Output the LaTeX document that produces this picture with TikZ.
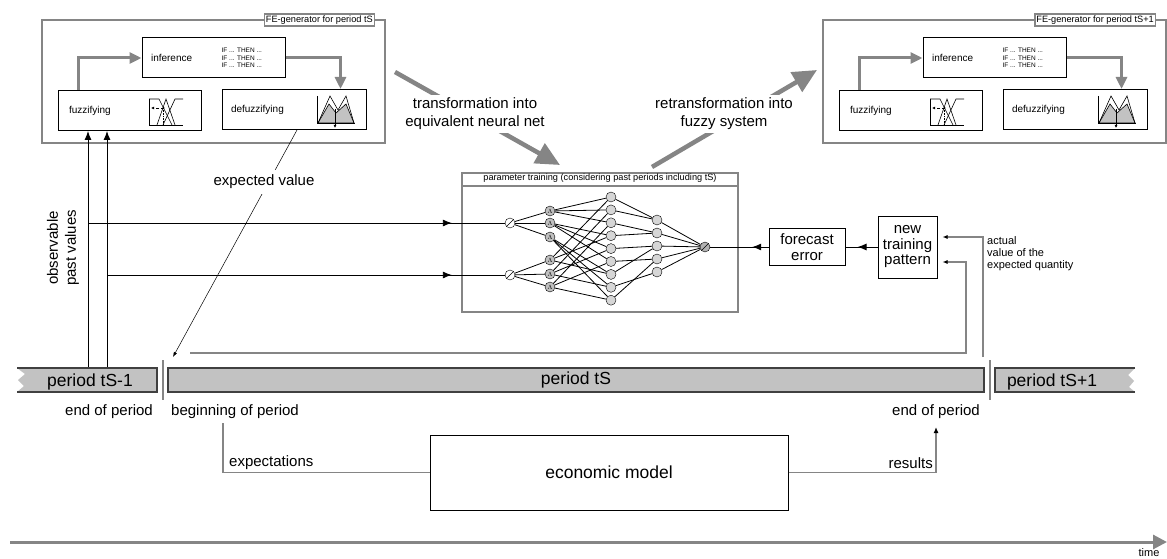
\documentclass[tikz,border=0pt]{standalone}
\usepackage{fontspec}
\setmainfont{Liberation Sans}
\usetikzlibrary{arrows.meta,positioning}

\definecolor{linegray}{gray}{0.52}
\definecolor{bargray}{gray}{0.76}
\definecolor{nodegray}{gray}{0.84}
\definecolor{edgegray}{gray}{0.25}

\newcommand\fsTiny{\fontsize{6.5}{7.5}\selectfont}
\newcommand\fsSmall{\fontsize{9.2}{11.5}\selectfont}
\newcommand\fsBox{\fontsize{10}{12}\selectfont}
\newcommand\fsMid{\fontsize{15}{18}\selectfont}
\newcommand\fsBig{\fontsize{17.5}{20}\selectfont}

\begin{document}
\begin{tikzpicture}[x=1pt, y=-1pt,
    fbox/.style={draw, line width=1pt, fill=white, inner sep=0pt},
    fegray/.style={draw=linegray, line width=2.5pt},
    felabel/.style={draw=linegray, line width=1.5pt, fill=white, inner sep=1.5pt, font=\fsSmall},
    grayarr/.style={draw=linegray, line width=3pt, -{Triangle[length=12pt,width=11pt]}},
    bigarr/.style={draw=linegray, line width=4.5pt, -{Triangle[length=24pt,width=22pt]}},
    timeax/.style={draw=linegray, line width=3pt, -{Triangle[length=14pt,width=14pt]}},
    arr/.style={line width=0.9pt, -{Latex[length=9pt,width=7pt]}},
    smallarr/.style={-{Latex[length=5pt,width=4pt,color=black]}},
    grayline/.style={draw=linegray, line width=1.2pt},
    icon/.style={line width=0.6pt},
    neuron/.style={circle, draw, fill=nodegray, minimum size=10pt, inner sep=0pt},
    inneuron/.style={neuron, fill=white, path picture={\draw (path picture bounding box.south west) -- (path picture bounding box.north east);}},
    conn/.style={line width=0.8pt},
    bar/.style={draw=edgegray, line width=1.1pt, fill=bargray, font=\fsBig, inner sep=0pt},
    sep/.style={draw=linegray, line width=2.5pt}]
  \useasboundingbox (0,0) rectangle (1167,559);

  % FE-generators for tS and tS+1
  \foreach \dx/\per/\nm in {0/tS/L, 781/tS+1/R}{
    \begin{scope}[xshift=\dx]
      \draw[fegray] (42,20) rectangle (385,143);
      \node[felabel, anchor=east] (lab\nm) at (375,20) {FE-generator for period \per};
      \node[fbox, minimum width=143pt, minimum height=40pt] (inf\nm) at (213.5,58) {};
      \node[fbox, minimum width=143pt, minimum height=40pt] (fuz\nm) at (129.5,110.5) {};
      \node[fbox, minimum width=144pt, minimum height=40pt] (def\nm) at (294,109.5) {};
      \node[font=\fsBox, anchor=west, right=6pt of inf\nm.west] {inference};
      \node[font=\fsTiny, align=left, anchor=east, left=20pt of inf\nm.east] {IF ... THEN ...\\IF ... THEN ...\\IF ... THEN ...};
      \node[font=\fsBox, anchor=west, right=8pt of fuz\nm.west] {fuzzifying};
      \node[font=\fsBox, anchor=west, right=6pt of def\nm.west] {defuzzifying};
      \draw[grayarr] ([xshift=21pt]fuz\nm.north west) |- (inf\nm.west);
      \draw[grayarr] (inf\nm.east) -| ([xshift=-26pt]def\nm.north east);
      % fuzzifying icon
      \draw[icon] (149,99) -- (149,125) -- (183,125);
      \draw[icon] (149,99) -- (159,99) -- (172,125);
      \draw[icon] (157,125) -- (166,99) -- (175,125);
      \draw[icon] (163,125) -- (175,99) -- (183,99);
      \draw[icon, densely dashed, -{Latex[length=3pt,width=3pt]}] (163.5,108) -- (151,108);
      \draw[icon, densely dotted] (163.5,108) -- (163.5,125);
      \fill (163.5,108) circle[radius=1pt];
      % defuzzifying icon
      \filldraw[icon, fill=bargray] (318,123) -- (329,104) -- (336,113) -- (346,104) -- (354,123) -- cycle;
      \draw[icon] (318,123) -- (330,96) -- (338,110) -- (346,96) -- (354,123);
      \draw[icon] (317,96) -- (317,123) -- (355,123);
      \draw[icon, -{Latex[length=3pt,width=3pt]}] (335,109) -- (335,128);
    \end{scope}
  }

  % transformation arrows
  \coordinate (trA) at (395,72);
  \coordinate (trB) at (560,165);
  \coordinate (reA) at (652,167);
  \coordinate (reB) at (817,70);
  \draw[bigarr] (trA) -- (trB);
  \draw[bigarr] (reA) -- (reB);
  \node[fill=white, align=center, font=\fsMid] (trT) at (475,114) {transformation into\\equivalent neural net};
  \node[fill=white, align=center, font=\fsMid] (reT) at (724,114) {retransformation into\\fuzzy system};

  % parameter training
  \node[draw=linegray, line width=2pt, minimum width=276pt, minimum height=139pt, inner sep=0pt] (train) at (600,242.5) {};
  \draw[linegray, line width=1.5pt] ([yshift=-14pt]train.north west) -- ([yshift=-14pt]train.north east);
  \node[font=\fsSmall, below=1.5pt of train.north, inner sep=0pt] (trainT) {parameter training (considering past periods including tS)};

  \node[inneuron] (in1) at (510,223) {};
  \node[inneuron] (in2) at (510,275) {};
  \foreach \k/\yy in {1/211,2/223,3/237,4/260,5/274,6/287}
    \node[neuron, fill=gray!50] (mf\k) at (550,\yy) {\fsTiny$\Lambda$};
  \foreach \k in {1,...,9}
    \node[neuron] (r\k) at (611,{197+(\k-1)*12.9}) {};
  \foreach \k in {1,...,5}
    \node[neuron] (o\k) at (657,{220+(\k-1)*13}) {};
  \node[inneuron, fill=gray!60] (out) at (705,247) {};

  \begin{scope}[conn]
    \foreach \k in {1,2,3} \draw (in1) -- (mf\k);
    \foreach \k in {4,5,6} \draw (in2) -- (mf\k);
    \foreach \r/\a/\b/\o in {1/1/4/1, 2/1/5/1, 3/1/6/2, 4/2/4/2, 5/2/5/3, 6/2/6/4, 7/3/4/3, 8/3/5/5, 9/3/6/4}{
      \draw (mf\a) -- (r\r);
      \draw (mf\b) -- (r\r);
      \draw (r\r) -- (o\o);
    }
    \foreach \k in {1,...,5} \draw (o\k) -- (out);
  \end{scope}

  % forecast error and new training pattern
  \node[fbox, minimum width=76pt, minimum height=37pt, align=center, font=\fontsize{15}{16.5}\selectfont] (fe) at (807,247) {forecast\\error};
  \node[fbox, minimum width=59pt, minimum height=62pt, align=center, font=\fontsize{15}{15.5}\selectfont] (ntp) at (907.5,247) {new\\training\\pattern};
  \draw[line width=0.9pt] (fe) -- (out);
  \draw[arr, shorten >=42pt] (fe) -- (out);
  \draw[line width=0.9pt] (ntp) -- (fe);
  \draw[arr, shorten >=12pt] (ntp) -- (fe);
  \node[font=\fontsize{11}{12}\selectfont, align=left, anchor=north west, inner sep=0pt] (actT) at (987,236) {actual\\value of the\\expected quantity};

  % observable past values
  \coordinate (obsA) at (88,368);
  \coordinate (obsB) at (107,368);
  \draw[arr] (obsA) -- (obsA |- fuzL.south);
  \draw[arr] (obsB) -- (obsB |- fuzL.south);
  \draw[line width=0.9pt] (obsA |- in1) -- (in1);
  \draw[arr, shorten >=53pt] (obsA |- in1) -- (in1);
  \draw[line width=0.9pt] (obsB |- in2) -- (in2);
  \draw[arr, shorten >=53pt] (obsB |- in2) -- (in2);
  \node[rotate=90, align=center, font=\fsMid] (obsT) at (63,248) {observable\\past values};

  % expected value
  \coordinate (evTip) at (173,357);
  \draw[line width=0.5pt, -{Latex[length=5pt,width=3.5pt]}] ([xshift=3pt]defL.south) -- (evTip);
  \node[fill=white, font=\fsMid, inner sep=5pt] (ev) at (264,182) {expected value};

  % feedback lines
  \coordinate (evS) at (190,353);
  \coordinate (evC) at (966,353);
  \coordinate (act) at (983,357);
  \draw[grayline, smallarr] (evS) -- (evC) |- ([xshift=5pt,yshift=-15pt]ntp.east);
  \draw[grayline, smallarr] (act) |- ([xshift=5pt,yshift=10pt]ntp.east);

  % periods
  \fill[bargray] (17,368) -- (157,368) -- (157,392) -- (17,392) -- (24,386) -- (18,380) -- (25,374) -- cycle;
  \draw[edgegray, line width=1.1pt] (17,368) -- (157,368) -- (157,392) -- (17,392);
  \node[font=\fsBig] (pL) at (90,382) {period tS-1};
  \node[bar, minimum width=816pt, minimum height=24pt] (pS) at (576,380) {period tS};
  \fill[bargray] (995,368) -- (1135,368) -- (1128,375) -- (1134,381) -- (1129,387) -- (1135,392) -- (995,392) -- cycle;
  \draw[edgegray, line width=1.1pt] (1135,368) -- (995,368) -- (995,392) -- (1135,392);
  \node[font=\fsBig] (pR) at (1052,382) {period tS+1};
  \draw[sep] (163,360) -- (163,400);
  \draw[sep] (990,360) -- (990,400);

  \node[font=\fsMid, anchor=base east, inner sep=0pt] (endL) at (153,415) {end of period};
  \node[font=\fsMid, anchor=base west, inner sep=0pt] (begS) at (171,415) {beginning of period};
  \node[font=\fsMid, anchor=base east, inner sep=0pt] (endS) at (980,415) {end of period};

  % economic model
  \node[fbox, minimum width=358pt, minimum height=75pt, font=\fsBig] (em) at (609,472.5) {economic model};
  \coordinate (expS) at (223,423);
  \coordinate (resE) at (936,427);
  \draw[grayline] (expS) |- (em.west);
  \draw[grayline, -{Latex[length=6pt,width=5pt,color=black]}] (em.east) -| (resE);
  \node[font=\fsMid, anchor=base west, inner sep=0pt] (expT) at (229,466) {expectations};
  \node[font=\fsMid, anchor=base east, inner sep=0pt] (resT) at (933,468) {results};

  % time axis
  \coordinate (t0) at (10,542);
  \coordinate (t1) at (1167,542);
  \draw[timeax] (t0) -- (t1);
  \node[font=\fontsize{11}{13}\selectfont, anchor=north, inner sep=0pt] (timeT) at (1149,548) {time};
\end{tikzpicture}
\end{document}
